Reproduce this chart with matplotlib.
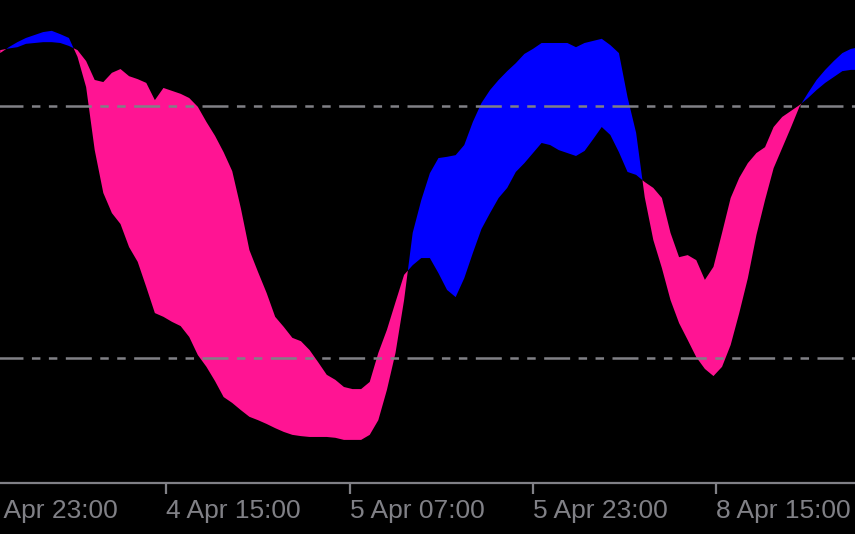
import matplotlib
matplotlib.use('Agg')
import matplotlib.pyplot as plt
import numpy as np

# M15 bars counted from 3 Apr 23:00
bars = list(range(6, 307, 3))

main = [92.6, 94.0, 95.2, 96.2, 96.9, 97.6, 97.9, 97.1, 96.2, 91.7,
        84.5, 69.5, 59.3, 54.5, 51.9, 46.4, 42.9, 36.9, 30.7, 29.8,
        28.6, 27.6, 25.0, 20.7, 17.9, 14.5, 10.7, 9.3, 7.6, 6.0,
        5.2, 4.3, 3.3, 2.4, 1.7, 1.4, 1.2, 1.2, 1.2, 1.0,
        0.5, 0.5, 0.5, 1.7, 5.2, 12.4, 21.2, 33.8, 49.8, 57.6,
        64.0, 67.6, 67.9, 68.3, 70.7, 76.2, 80.7, 83.8, 86.2, 88.3,
        90.2, 92.4, 93.6, 95.0, 95.0, 95.0, 95.0, 94.0, 95.0, 95.5,
        96.0, 94.5, 92.6, 82.1, 73.6, 58.3, 48.1, 41.4, 33.8, 28.3,
        24.3, 20.2, 17.4, 15.7, 17.9, 23.1, 30.7, 39.0, 49.3, 57.6,
        65.2, 70.0, 74.8, 79.8, 83.1, 86.2, 88.6, 90.7, 92.6, 93.6,
        94.0]

signal = [93.3, 93.7, 94.0, 94.8, 95.0, 95.2, 95.2, 95.0, 94.3, 93.3,
          90.7, 86.2, 85.7, 87.9, 88.8, 87.1, 86.4, 85.5, 81.4, 84.3,
          83.6, 82.9, 81.9, 79.8, 76.2, 72.9, 69.0, 64.5, 55.7, 45.7,
          40.5, 35.5, 29.8, 27.4, 24.8, 24.0, 21.9, 19.0, 16.0, 14.8,
          13.1, 12.6, 12.6, 14.3, 21.2, 26.7, 33.3, 39.8, 42.1, 43.8,
          43.8, 40.2, 36.2, 34.5, 39.0, 45.0, 50.7, 54.5, 58.1, 60.5,
          64.3, 66.4, 68.8, 71.2, 70.7, 69.5, 68.8, 68.1, 69.3, 72.1,
          75.0, 73.1, 69.0, 64.3, 63.6, 61.9, 60.5, 58.1, 49.8, 44.0,
          44.5, 43.3, 38.6, 41.7, 49.8, 58.1, 62.9, 66.4, 68.8, 70.2,
          75.0, 77.4, 78.8, 80.2, 81.9, 83.8, 85.5, 86.9, 88.3, 88.6,
          88.6]

tick_bars = [0, 64, 128, 192, 256]
tick_labels = ['3 Apr 23:00', '4 Apr 15:00', '5 Apr 07:00', '5 Apr 23:00', '8 Apr 15:00']
levels = [80, 20]

grey = '#808086'
plt.rcParams['lines.scale_dashes'] = False

fig = plt.figure(figsize=(8.55, 5.34), dpi=100, facecolor='black')
ax = fig.add_axes([-17 / 855, 51 / 534, 872 / 855, 483 / 534])
ax.set_facecolor('black')

x = np.array(bars)
m = np.array(main)
s = np.array(signal)
ax.fill_between(x, m, s, where=m >= s, interpolate=True, color='#0000ff', lw=0)
ax.fill_between(x, m, s, where=m < s, interpolate=True, color='#ff1493', lw=0)

# dash-dot-dot level lines, pattern in points
for lvl in levels:
    ax.axhline(lvl, color=grey, lw=1.8,
               linestyle=(1.44, (18.7, 6.1, 6.1, 6.1, 6.1, 6.1)), zorder=3)

ax.set_xlim(0, 872 / 2.8646)
ax.set_ylim(80 - (483 - 106) / 4.2, 80 + 106 / 4.2)

for side in ['top', 'left', 'right']:
    ax.spines[side].set_visible(False)
ax.spines['bottom'].set_color(grey)
ax.spines['bottom'].set_linewidth(1.6)
ax.set_yticks([])
ax.set_xticks(tick_bars)
ax.set_xticklabels(tick_labels, ha='left', family='Liberation Sans', fontsize=19, color=grey)
ax.tick_params(axis='x', direction='out', length=8, width=1.6, color=grey, pad=3.5)

fig.savefig('out.png', dpi=100, facecolor='black')
